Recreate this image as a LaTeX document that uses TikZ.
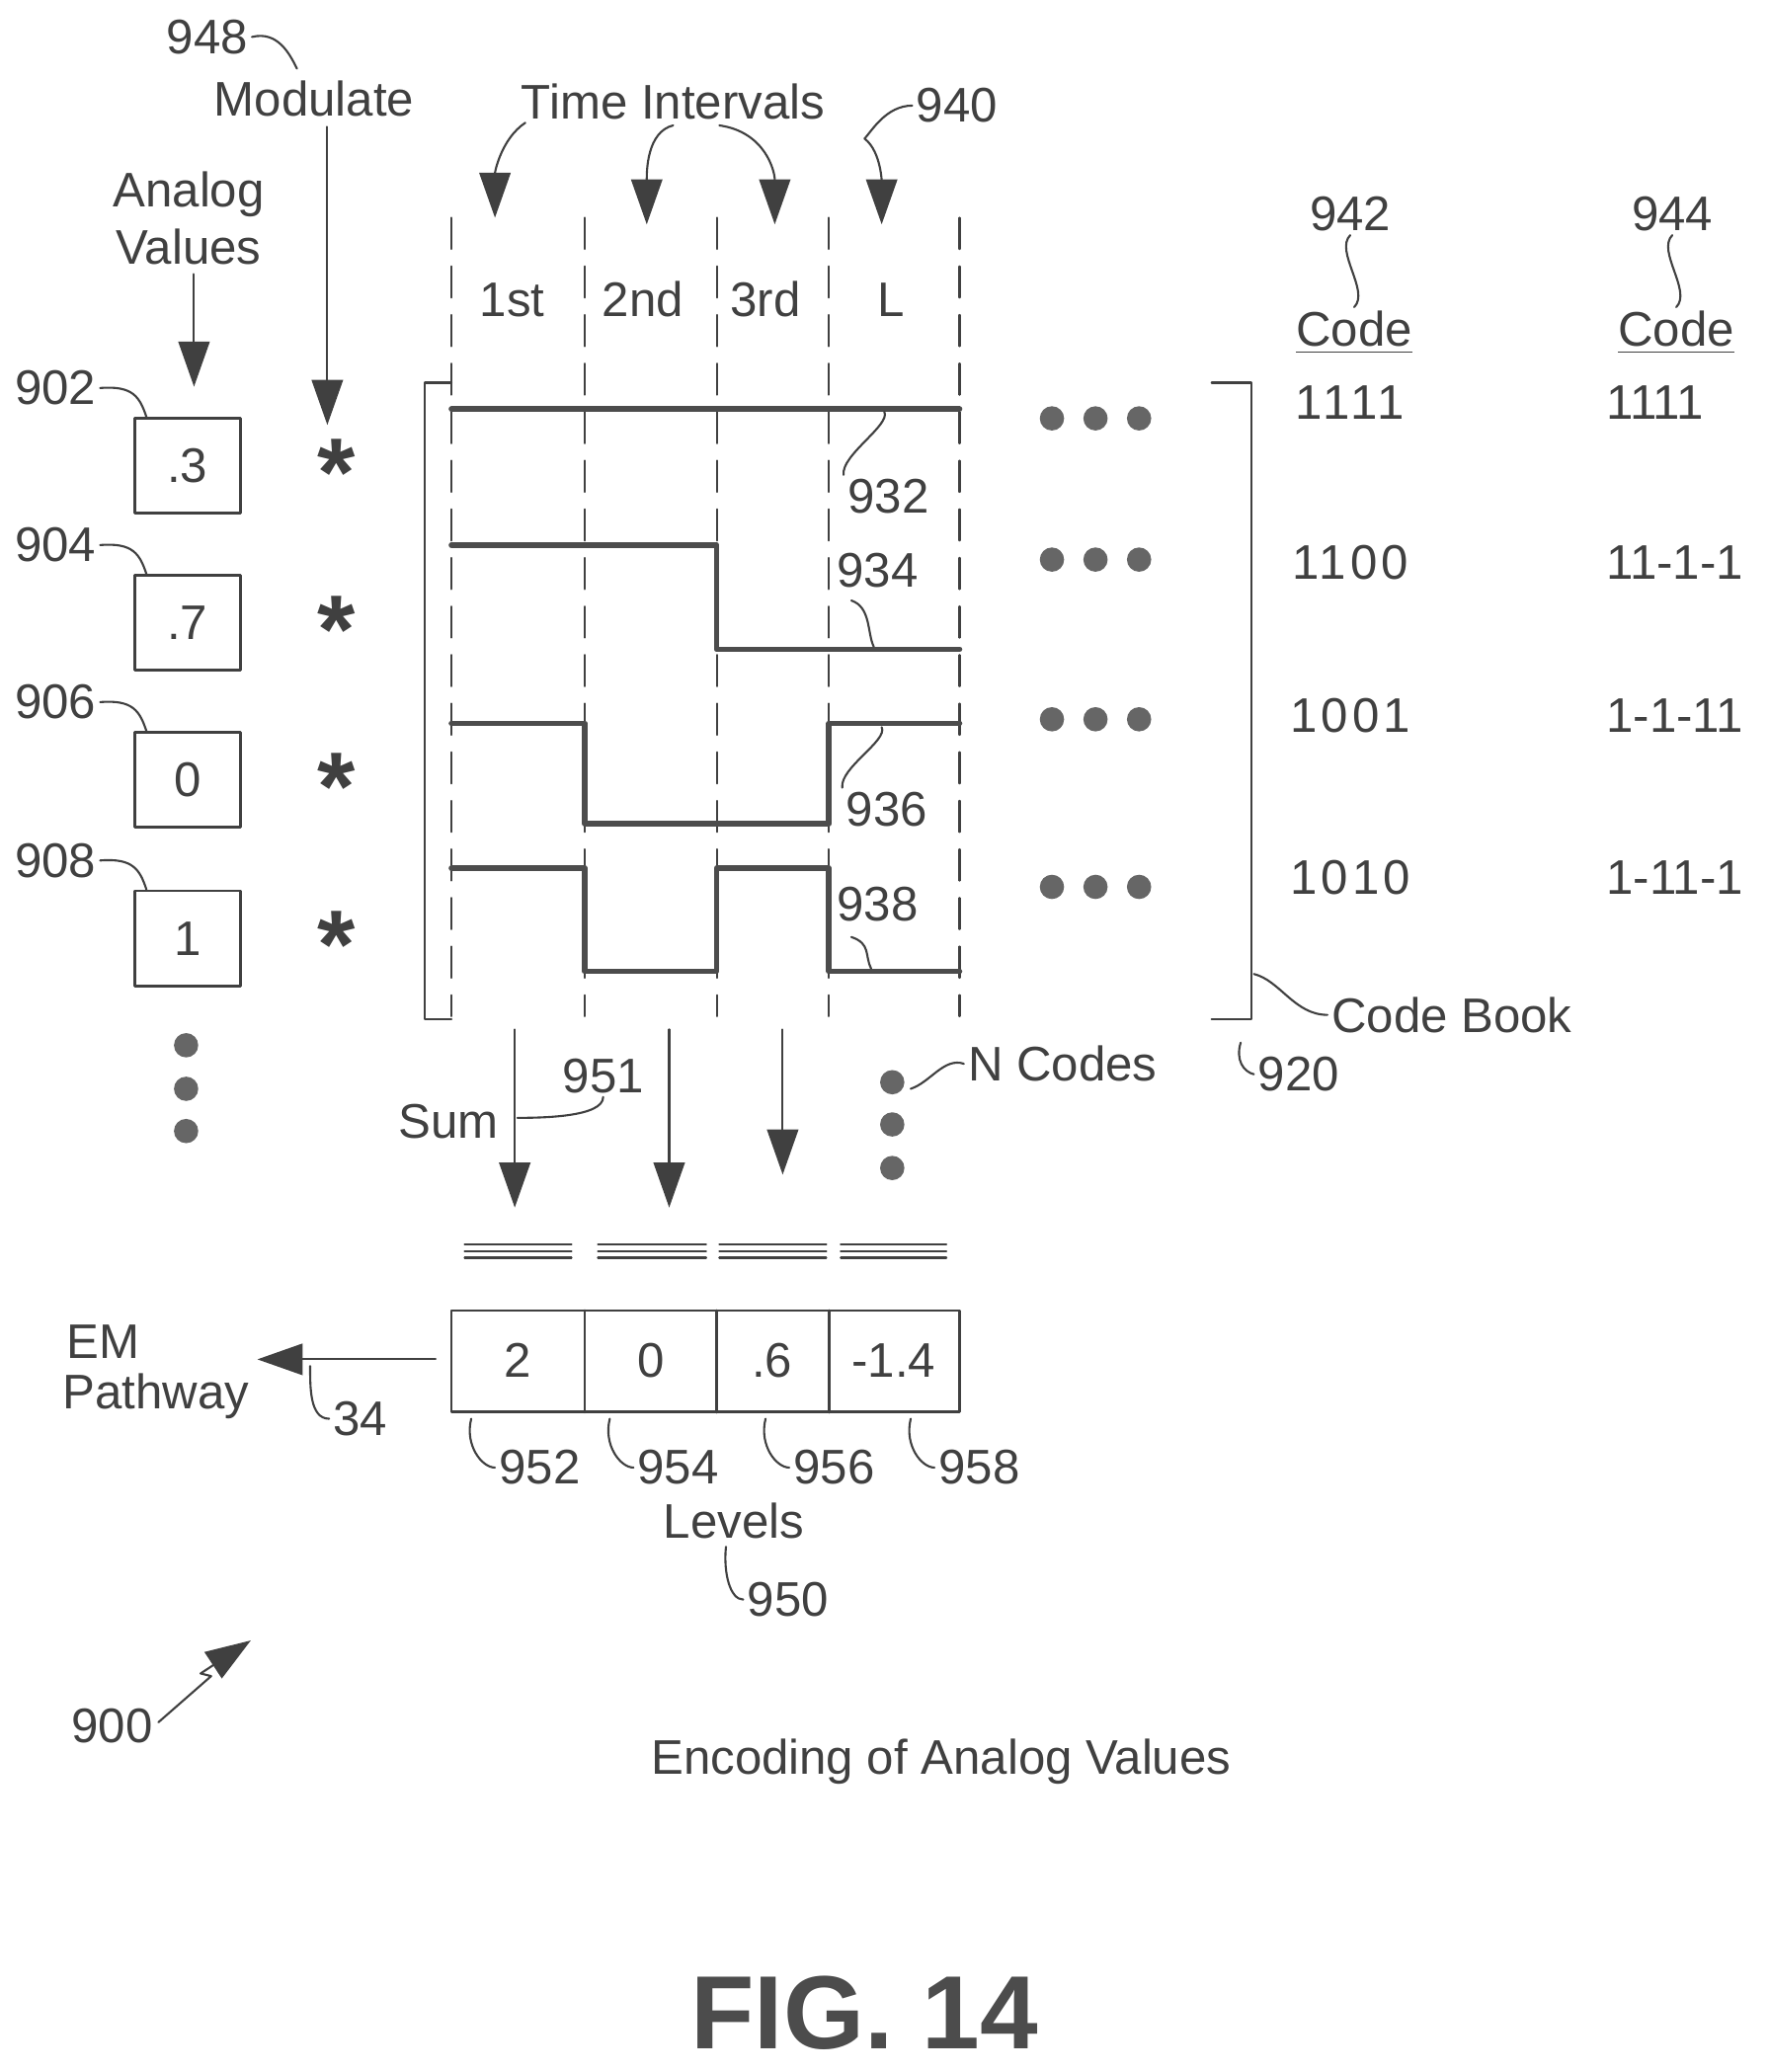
\documentclass[tikz,border=0pt]{standalone}
\usepackage{fontspec}
\setmainfont{Liberation Sans}
\usetikzlibrary{arrows.meta, calc}
\begin{document}
\begin{tikzpicture}[line cap=round,line join=round,x=0.01336cm,y=-0.01336cm,
    txt/.style={font=\fontsize{14}{17}\selectfont, text=black!75, inner sep=1pt},
    box/.style={draw=black!75, thick, minimum width=80*0.01336cm, minimum height=72*0.01336cm, txt},
    lead/.style={black!75, semithick},
    arr/.style={black!75, semithick, -{Triangle[width=9pt,length=13pt]}},
    wave/.style={black!70, line width=1.6pt},
    dot/.style={circle, fill=black!60, inner sep=0pt, minimum size=7pt}]
    \useasboundingbox (0,0) rectangle (1340,1570);

    % analog values
    \node[txt] (av1) at (143,147) {Analog};
    \node[txt] (av2) at (143,187) {Values};
    \coordinate (avt) at (147,293);
    \draw[arr] (av2.south) ++(4,4) -- (avt);
    \foreach \n/\y/\v/\r in {a/353/.3/902, b/472/.7/904, c/591/0/906, d/711/1/908}{
        \node[box] (\n) at (142,\y) {\v};
        \node[txt] (r\n) at (42,\y-59) {\r};
        \draw[lead] (r\n.east) .. controls ++(25,-2) and ++(-5,-15) .. ($(\n.north west)+(10,0)$);
        \node[txt, font=\fontsize{28}{28}\selectfont\bfseries] at (255,\y+5) {*};
    }
    \foreach \y in {792,825,857} \node[dot] at (141,\y) {};

    % modulate
    \node[txt] (r948) at (157,28) {948};
    \node[txt] (mod) at (238,75) {Modulate};
    \draw[lead] (r948.east) .. controls ++(20,-5) and ++(-5,-10) .. (225,52);
    \coordinate (modt) at (248,322);
    \draw[arr] (248,96) -- (modt);

    % time intervals
    \foreach \x in {342,443,543,628,727} \draw[black!75, semithick, dash pattern=on 9pt off 5pt] (\x,165) -- (\x,770);
    \foreach \x/\t in {388/1st, 487/2nd, 580/3rd, 675/L} \node[txt] at (\x,227) {\t};
    \node[txt] (ti) at (510,77) {Time Intervals};
    \draw[arr] (398,93) .. controls (380,105) and (375,130) .. (375,165);
    \draw[arr] (510,95) .. controls (490,100) and (490,130) .. (490,170);
    \draw[arr] (545,95) .. controls (580,100) and (587,130) .. (587,170);
    \draw[arr] (655,105) .. controls (668,115) and (668,140) .. (668,170);
    \node[txt] (r940) at (725,80) {940};
    \draw[lead] (r940.west) .. controls ++(-20,0) and ++(5,-5) .. (655,105);

    % code book waveforms
    \draw[black!75, semithick] (342,290) -- (322,290) -- (322,772) -- (342,772);
    \draw[wave] (342,310) -- (727,310);
    \draw[wave] (342,413) -- (543,413) -- (543,492) -- (727,492);
    \draw[wave] (342,548) -- (443,548) -- (443,624) -- (628,624) -- (628,548) -- (727,548);
    \draw[wave] (342,658) -- (443,658) -- (443,736) -- (543,736) -- (543,658) -- (628,658) -- (628,736) -- (727,736);
    \node[txt] (r932) at (673,376) {932};
    \draw[lead] (r932.north west) .. controls ++(-2,-15) and ++(5,10) .. (670,312);
    \node[txt] (r934) at (665,432) {934};
    \draw[lead] (645,455) .. controls ++(15,5) and ++(-5,-10) .. (662,490);
    \node[txt] (r936) at (672,613) {936};
    \draw[lead] (r936.north west) .. controls ++(-2,-15) and ++(5,10) .. (668,551);
    \node[txt] (r938) at (665,685) {938};
    \draw[lead] (645,710) .. controls ++(15,5) and ++(-5,-10) .. (660,734);
    \foreach \y in {317,424,545,672} \foreach \x in {797,830,863} \node[dot] at (\x,\y) {};
    \draw[black!75, semithick] (918,290) -- (948,290) -- (948,772) -- (918,772);
    \node[txt] (cb) at (1100,769) {Code Book};
    \draw[lead] (cb.west) .. controls ++(-25,0) and ++(20,5) .. (950,738);
    \node[txt, anchor=west] (r920) at (950,814) {920};
    \draw[lead] (940,790) .. controls (936,803) and (942,812) .. (r920.west);

    % codes
    \foreach \x/\r in {1023/942, 1267/944}{
        \node[txt] (c\r) at (\x,162) {\r};
        \node[txt] (h\r) at (\x+3,252) {\underline{Code}};
        \draw[lead] (c\r.south) .. controls ++(-12,12) and ++(12,-12) .. (h\r.north);
    }
    \foreach \y/\p/\q in {305/1111/1111, 426/1100/11-1-1, 542/1001/1-1-11, 665/1010/1-11-1}{
        \node[txt, font=\fontsize{14}{17}\selectfont\addfontfeature{LetterSpace=8}] at (1023,\y) {\p};
        \node[txt, anchor=west] at (1214,\y) {\q};
    }

    % sum
    \foreach \x/\e in {390/915, 507/915, 593/890} \draw[arr] (\x,780) -- (\x,\e);
    \node[txt] (sum) at (340,850) {Sum};
    \node[txt] (r951) at (457,815) {951};
    \draw[lead] (r951.south) .. controls ++(0,15) and ++(20,0) .. (392,847);
    \foreach \y in {820,852,885} \node[dot] at (676,\y) {};
    \node[txt] (nc) at (805,806) {N Codes};
    \draw[lead] (nc.west) .. controls ++(-15,-5) and ++(15,-5) .. (690,825);
    \foreach \a/\b in {352/433, 453/535, 545/626, 637/717}
        \foreach \y in {943,948,953} \draw[black!75, semithick] (\a,\y) -- (\b,\y);

    % levels
    \foreach \n/\x/\v in {l1/392/2, l2/493/0, l3/585/.6, l4/677/-1.4} \node[txt] (\n) at (\x,1031) {\v};
    \draw[black!75, thick] (342,993) rectangle (727,1070);
    \foreach \x in {443,543,628} \draw[black!75, thick] (\x,993) -- (\x,1070);
    \foreach \x/\r in {357/952, 462/954, 580/956, 690/958}{
        \node[txt, anchor=west] (r\r) at (\x+18,1112) {\r};
        \draw[lead] (\x,1075) .. controls ++(-5,20) and ++(-10,0) .. (r\r.west);
    }
    \node[txt] (lev) at (556,1152) {Levels};
    \node[txt] (r950) at (597,1212) {950};
    \draw[lead] (550,1172) .. controls ++(-2,20) and ++(-10,0) .. (r950.west);

    % EM pathway
    \node[txt] (em1) at (78,1017) {EM};
    \node[txt] (em2) at (118,1058) {Pathway};
    \coordinate (emt) at (195,1030);
    \draw[arr] (330,1030) -- (emt);
    \node[txt] (r34) at (273,1075) {34};
    \draw[lead] (r34.west) .. controls ++(-15,0) and ++(0,15) .. (235,1035);

    % figure labels
    \node[txt] (r900) at (85,1308) {900};
    \draw[black!75, semithick, -{Triangle[width=9pt,length=13pt]}] (120,1305) -- (160,1270) -- (152,1268) -- (190,1243);
    \node[txt] at (713,1335) {Encoding of Analog Values};
    \node[font=\fontsize{30}{34}\selectfont\bfseries, text=black!70] at (655,1525) {FIG. 14};
\end{tikzpicture}
\end{document}
